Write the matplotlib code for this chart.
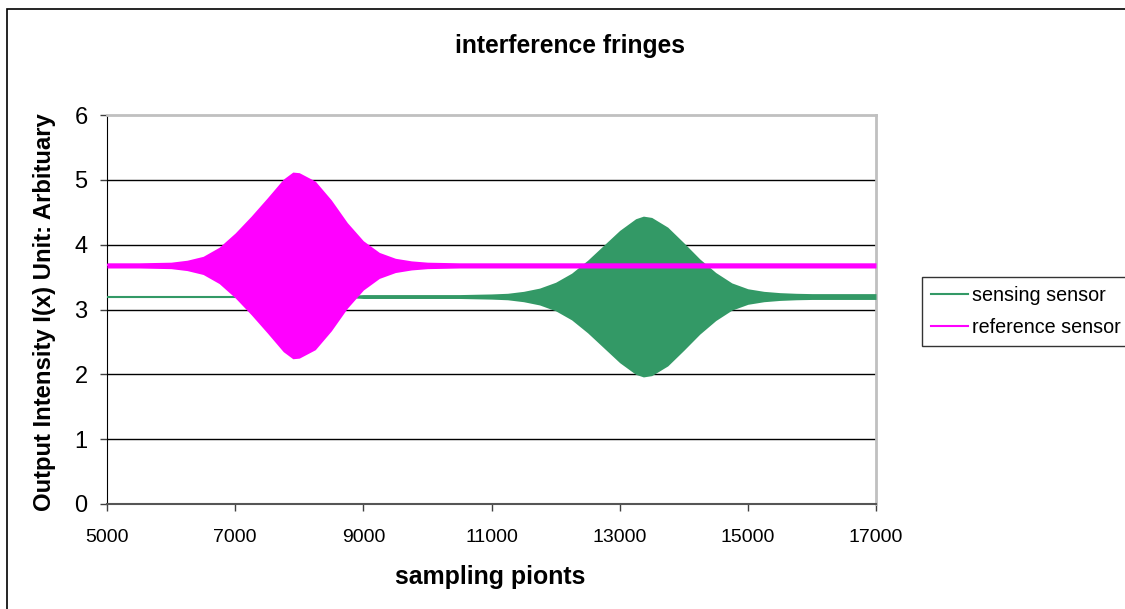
import matplotlib.pyplot as plt
from matplotlib.patches import Rectangle

plt.rcParams['font.family'] = ['Liberation Sans', 'DejaVu Sans']

x_pts = [5000, 5500, 6000, 6250, 6500, 6750, 7000, 7250, 7500, 7750, 7900,
         8000, 8250, 8500, 8750, 9000, 9250, 9500, 9750, 10000, 10500, 11000,
         11250, 11500, 11750, 12000, 12250, 12500, 12750, 13000, 13250, 13370,
         13500, 13750, 14000, 14250, 14500, 14750, 15000, 15250, 15500, 15750,
         16000, 17000]

# reference sensor: centre level and half-amplitude of the fringes
ref_level = 3.68
ref_amp = [0.04, 0.04, 0.05, 0.08, 0.14, 0.28, 0.50, 0.76, 1.04, 1.33, 1.44,
           1.43, 1.30, 1.01, 0.66, 0.38, 0.20, 0.11, 0.07, 0.05, 0.04, 0.04,
           0.04, 0.04, 0.04, 0.04, 0.04, 0.04, 0.04, 0.04, 0.04, 0.04,
           0.04, 0.04, 0.04, 0.04, 0.04, 0.04, 0.04, 0.04, 0.04, 0.04,
           0.04, 0.04]

# sensing sensor: centre level and half-amplitude of the fringes
sen_level = 3.2
sen_amp = [0.015, 0.015, 0.015, 0.015, 0.015, 0.015, 0.015, 0.015, 0.015, 0.015, 0.015,
           0.015, 0.015, 0.015, 0.015, 0.03, 0.03, 0.03, 0.03, 0.03, 0.03, 0.04,
           0.05, 0.08, 0.13, 0.22, 0.36, 0.56, 0.79, 1.02, 1.20, 1.24,
           1.22, 1.07, 0.83, 0.58, 0.37, 0.21, 0.12, 0.08, 0.06, 0.05,
           0.045, 0.045]

green = '#339966'
magenta = '#ff00ff'

fig = plt.figure(figsize=(11.25, 6.09), dpi=100)
ax = fig.add_axes([107 / 1125, 1 - 504 / 609, 769 / 1125, 389 / 609])

ax.fill_between(x_pts, [sen_level - a for a in sen_amp], [sen_level + a for a in sen_amp],
                color=green, linewidth=0, zorder=3)
ax.plot(x_pts, [sen_level] * len(x_pts), color=green, lw=1.5, label='sensing sensor', zorder=3)
ax.fill_between(x_pts, [ref_level - a for a in ref_amp], [ref_level + a for a in ref_amp],
                color=magenta, linewidth=0, zorder=4)
ax.plot(x_pts, [ref_level] * len(x_pts), color=magenta, lw=1.5, label='reference sensor', zorder=4)

ax.set_xlim(5000, 17000)
ax.set_ylim(0, 6)
ax.set_xticks(range(5000, 17001, 2000))
ax.set_yticks(range(0, 7))
ax.tick_params(axis='x', labelsize=14, direction='out', length=5, width=1, color='#404040', pad=13)
ax.tick_params(axis='y', labelsize=17, direction='out', length=5, width=1, color='#404040', pad=9)
for y in range(1, 6):
    ax.axhline(y, color='black', lw=1, zorder=1)

ax.spines['left'].set_color('black')
ax.spines['bottom'].set_color('#555555')
ax.spines['bottom'].set_linewidth(1.5)
ax.spines['top'].set_color('#c0c0c0')
ax.spines['right'].set_color('#c0c0c0')
ax.spines['top'].set_linewidth(2)
ax.spines['right'].set_linewidth(2)

fig.text(570 / 1125, 1 - 46 / 609, 'interference fringes', fontsize=17.7, fontweight='bold',
         ha='center', va='center')
fig.text(490 / 1125, 1 - 577 / 609, 'sampling pionts', fontsize=17.9, fontweight='bold',
         ha='center', va='center')
fig.text(45 / 1125, 1 - 312 / 609, 'Output Intensity I(x) Unit: Arbituary', fontsize=17.2,
         fontweight='bold', ha='center', va='center', rotation=90)

leg = fig.legend(loc='upper left', bbox_to_anchor=(922 / 1125, 1 - 277 / 609), fontsize=14.2,
                 frameon=True, fancybox=False, handlelength=1.9, handletextpad=0.2,
                 borderpad=0.45, labelspacing=0.68, borderaxespad=0)
leg.get_frame().set_edgecolor('black')
leg.get_frame().set_linewidth(1)

fig.patches.append(Rectangle((7 / 1125, -0.1), 1.2, 1.1 - 9 / 609, transform=fig.transFigure,
                             fill=False, edgecolor='black', linewidth=1.2))

fig.savefig('out.png', dpi=100)
